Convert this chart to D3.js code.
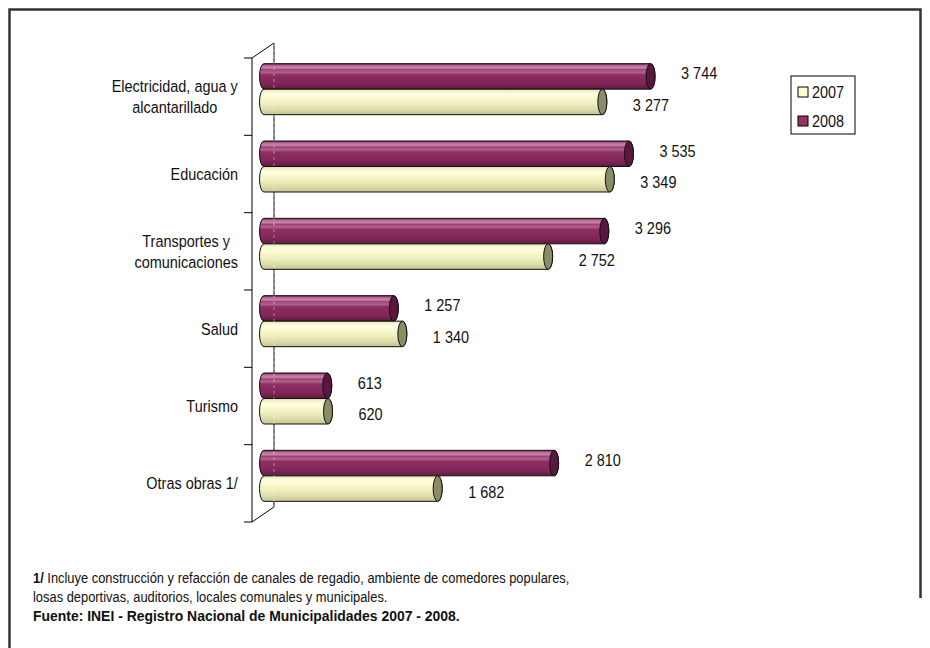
<!DOCTYPE html>
<html>
<head>
<meta charset="utf-8">
<script src="https://cdn.jsdelivr.net/npm/d3@7"></script>
<style>
  body { margin: 0; background: #fff; }
  text { font-family: "Liberation Sans", Arial, sans-serif; fill: #111; }
</style>
</head>
<body>
<div id="chart"></div>
<script>
// data
const categories = ["Electricidad, agua y\nalcantarillado", "Educación", "Transportes y\ncomunicaciones", "Salud", "Turismo", "Otras obras 1/"];
const years = ["2007", "2008"];
const values2007 = [3277, 3349, 2752, 1340, 620, 1682];
const values2008 = [3744, 3535, 3296, 1257, 613, 2810];
const footnotes = [
    ["1/", " Incluye construcción y refacción de canales de regadio, ambiente de comedores populares,"],
    ["", "losas deportivas, auditorios, locales comunales y municipales."],
    ["Fuente: INEI - Registro Nacional de Municipalidades 2007 - 2008.", ""]
];

function fmt(v) {
    // thousands with a space, as in the original
    return d3.format(",")(v).replace(/,/g, " ");
}

const NARROW = 0.85; // squeeze Liberation Sans to look like Arial Narrow

function CylinderChart({
    target,
    width = 930,
    height = 648,
    axisTop = 58, // front wall of the category axis
    axisBottom = 522,
    axisX = 252,
    depthX = 22, // 3d depth offset
    depthY = -15,
    barHeight = 25.5,
    capRx = 4.5,
    fontSize = 17,
} = {}) {
    const svg = d3.select(target)
        .append("svg")
        .attr("width", width)
        .attr("height", height);

    const defs = svg.append("defs");
    const grads = {
        "2008": [["0%", "#6e1f4a"], ["8%", "#b86a96"], ["16%", "#c985aa"], ["24%", "#9c4274"], ["34%", "#b2648e"], ["44%", "#8c2e60"], ["75%", "#83275a"], ["90%", "#70204b"], ["100%", "#5c183d"]],
        "2007": [["0%", "#d9d9aa"], ["10%", "#f6f6cc"], ["24%", "#ffffe6"], ["34%", "#fafad0"], ["55%", "#f0f0c0"], ["80%", "#dcdcab"], ["100%", "#c3c394"]]
    };
    Object.entries(grads).forEach(([k, stops]) => {
        const g = defs.append("linearGradient").attr("id", "g" + k)
            .attr("x1", 0).attr("y1", 0).attr("x2", 0).attr("y2", 1);
        stops.forEach(s => g.append("stop").attr("offset", s[0]).attr("stop-color", s[1]));
    });
    const capColor = { "2007": "#8b8b68", "2008": "#5a1740" };
    const swatch = { "2007": "#ffffcc", "2008": "#993366" };

    // outer frame (right side fades out before the bottom)
    svg.append("path")
        .attr("d", "M9.5,660V9.5H920.5V598")
        .attr("fill", "none").attr("stroke", "#333").attr("stroke-width", 2.5);

    const y = d3.scaleBand().domain(categories).range([axisTop, axisBottom]);
    const x = d3.scaleLinear().domain([0, 4000]).range([264, 677]);

    // back wall of the axis
    const wall = svg.append("g").attr("fill", "none").attr("stroke", "#000").attr("stroke-width", 1);
    wall.append("path").attr("d", `M${axisX},${axisTop}L${axisX + depthX},${axisTop + depthY}L${axisX + depthX},${axisBottom + depthY}`);
    wall.append("path").attr("d", `M${axisX},${axisBottom}L${axisX + depthX},${axisBottom + depthY}`);

    const rows = categories.map((c, i) => ({ cat: c, v2007: values2007[i], v2008: values2008[i] }));

    const bars = [];
    rows.forEach(r => {
        const yc = y(r.cat) + y.bandwidth() / 2 + depthY / 2;
        bars.push({ key: "2008", v: r.v2008, top: yc - barHeight });
        bars.push({ key: "2007", v: r.v2007, top: yc });
    });

    const bar = svg.append("g").selectAll("g")
        .data(bars).enter().append("g");

    bar.append("path")
        .attr("d", d => {
            const x0 = x(0), x1 = x(d.v), t = d.top, b = d.top + barHeight, ry = barHeight / 2;
            return `M${x0},${t}L${x1},${t}A${capRx},${ry} 0 0 1 ${x1},${b}L${x0},${b}A${capRx},${ry} 0 0 1 ${x0},${t}Z`;
        })
        .attr("fill", d => `url(#g${d.key})`)
        .attr("stroke", "#111").attr("stroke-width", 1);

    bar.append("ellipse")
        .attr("cx", d => x(d.v))
        .attr("cy", d => d.top + barHeight / 2)
        .attr("rx", capRx).attr("ry", barHeight / 2)
        .attr("fill", d => capColor[d.key])
        .attr("stroke", "#111").attr("stroke-width", 1);

    bar.append("text")
        .attr("transform", d => `translate(${x(d.v) + capRx + 26},${d.top + barHeight / 2 + (d.key === "2008" ? -3 : 3)}) scale(${NARROW},1)`)
        .attr("dy", "0.35em")
        .attr("font-size", fontSize)
        .text(d => fmt(d.v));

    // back wall line seen through the bars
    svg.append("line")
        .attr("x1", axisX + depthX).attr("x2", axisX + depthX)
        .attr("y1", axisTop + depthY).attr("y2", axisBottom + depthY)
        .attr("stroke", "#fff").attr("stroke-opacity", 0.4)
        .attr("stroke-dasharray", "3,3");

    // front axis with ticks
    const axis = svg.append("g")
        .attr("transform", `translate(${axisX},0)`)
        .call(d3.axisLeft(y).tickSize(0).tickFormat(""));
    axis.select(".domain").attr("stroke", "#000").attr("d", `M0,${axisTop}V${axisBottom}`);
    const bounds = categories.map(c => y(c)).concat([axisBottom]);
    axis.selectAll(".bound").data(bounds).enter().append("line")
        .attr("class", "bound")
        .attr("x1", -8).attr("x2", 0)
        .attr("y1", d => d).attr("y2", d => d)
        .attr("stroke", "#000");

    // category labels, block right aligned, lines centered
    const lab = svg.append("g");
    categories.forEach(c => {
        const lines = c.split("\n");
        const t = lab.append("text")
            .attr("font-size", fontSize)
            .attr("text-anchor", "middle");
        lines.forEach((l, i) => {
            t.append("tspan").text(l)
                .attr("x", 0)
                .attr("y", (i - (lines.length - 1) / 2) * 21)
                .attr("dy", "0.35em");
        });
        const w = t.node().getBBox().width * NARROW;
        t.attr("transform", `translate(${238 - w / 2},${y(c) + y.bandwidth() / 2}) scale(${NARROW},1)`);
    });

    // legend
    const leg = svg.append("g").attr("transform", "translate(791,76)");
    leg.append("rect").attr("width", 64).attr("height", 58)
        .attr("fill", "#fff").attr("stroke", "#000");
    const li = leg.selectAll(".li").data(years).enter().append("g")
        .attr("class", "li")
        .attr("transform", (d, i) => `translate(7,${11 + i * 29})`);
    li.append("rect").attr("width", 10).attr("height", 10)
        .attr("fill", d => swatch[d]).attr("stroke", "#000");
    li.append("text")
        .attr("transform", `translate(14,5) scale(${NARROW},1)`)
        .attr("dy", "0.35em")
        .attr("font-size", fontSize).text(d => d);

    // footnotes
    const foot = svg.append("g");
    footnotes.forEach((f, i) => {
        const sx = f[1] ? 0.86 : 0.93;
        const t = foot.append("text")
            .attr("transform", `translate(33,${578 + i * 19}) scale(${sx},1)`)
            .attr("dy", "0.35em").attr("font-size", 15);
        t.append("tspan").attr("font-weight", "bold").text(f[0]);
        t.append("tspan").text(f[1]);
    });
}

CylinderChart({
    target: "#chart",
})
</script>
</body>
</html>
